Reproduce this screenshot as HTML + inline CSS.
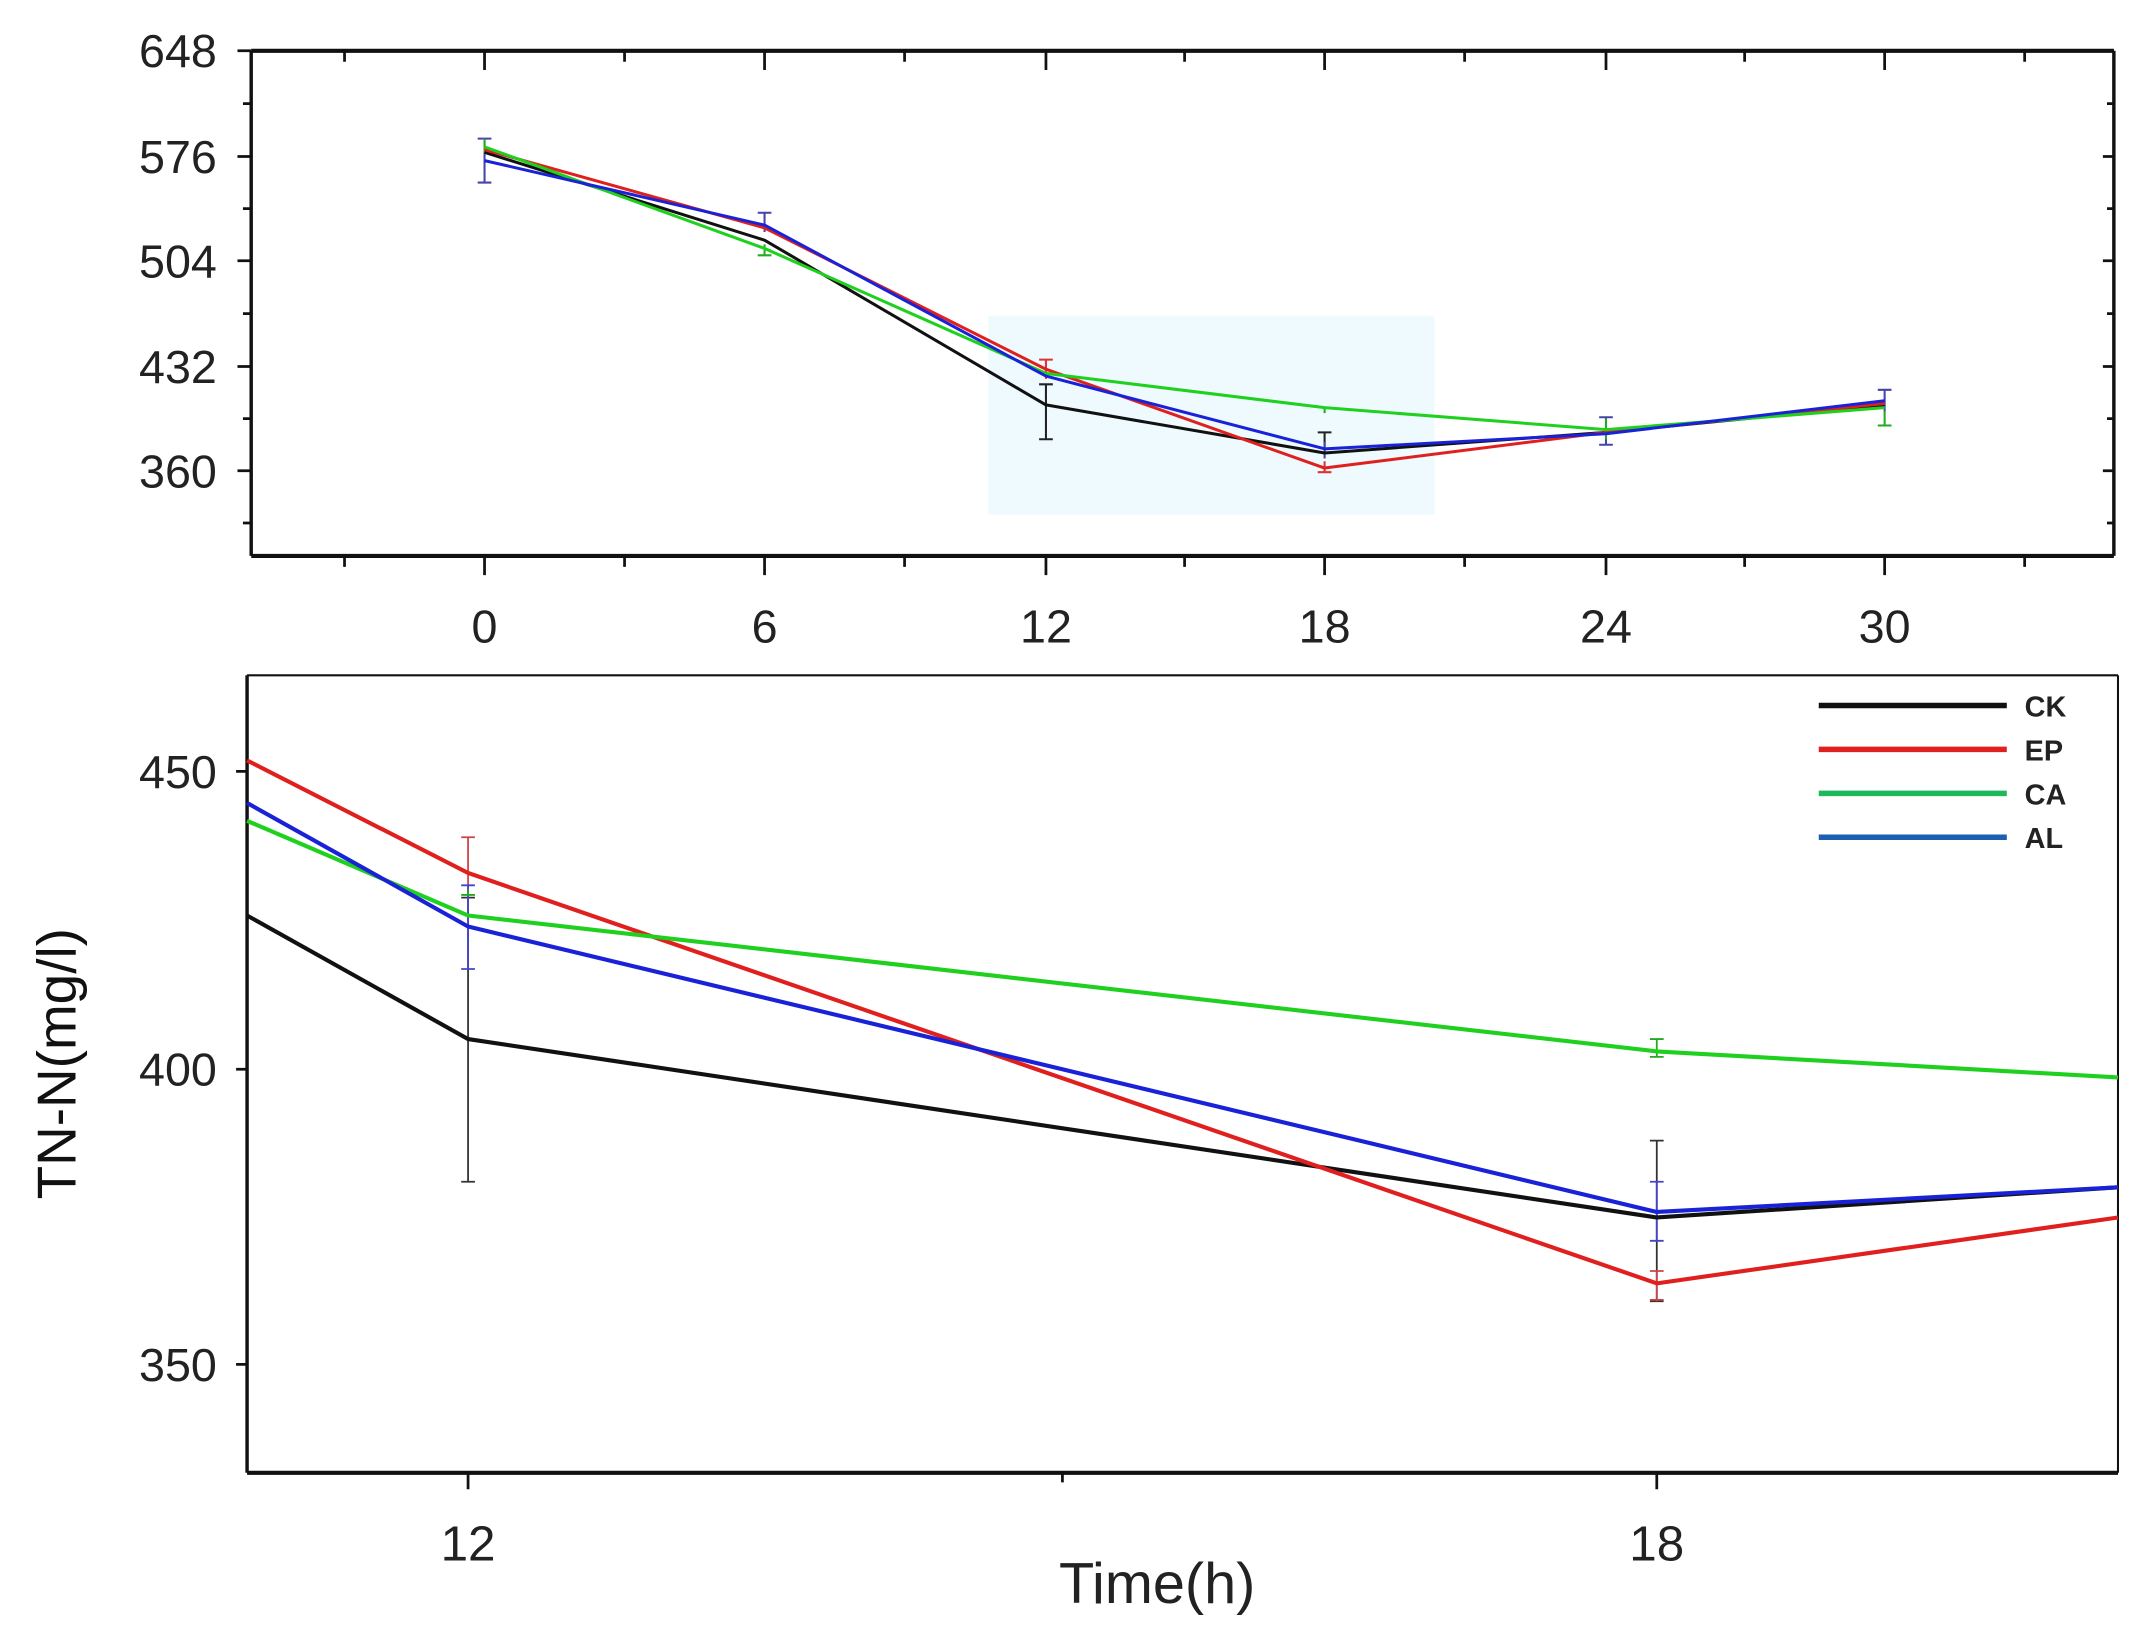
<!DOCTYPE html>
<html><head><style>html,body{margin:0;padding:0;background:#fff;}svg{display:block}</style></head>
<body>
<svg width="2151" height="1638" viewBox="0 0 1560 1188" preserveAspectRatio="none" xmlns="http://www.w3.org/2000/svg" font-family="Liberation Sans, sans-serif">
<rect width="1560" height="1188" fill="#fff"/>
<g transform="scale(0.9955)">
<!-- TOP PLOT -->
<rect x="720" y="230" width="325" height="145" fill="#eefafd"/>
<g stroke="#111" fill="none">
<line x1="183" y1="37" x2="1540" y2="37" stroke-width="3"/>
<line x1="183" y1="405" x2="1540" y2="405" stroke-width="3"/>
<line x1="183" y1="37" x2="183" y2="405" stroke-width="2.5"/>
<line x1="1540" y1="37" x2="1540" y2="405" stroke-width="2.5"/>
<g stroke-width="2">
<path d="M183 37h-10M183 114h-10M183 190h-10M183 267h-10M183 343h-10M183 75.5h-6M183 152h-6M183 228.5h-6M183 305h-6M183 381h-6"/>
<path d="M1540 37h-8M1540 114h-8M1540 190h-8M1540 267h-8M1540 343h-8M1540 75.5h-5M1540 152h-5M1540 228.5h-5M1540 305h-5M1540 381h-5"/>
<path d="M353 405v14M557 405v14M762 405v14M965 405v14M1170 405v14M1373 405v14M251 405v8M455 405v8M659 405v8M863 405v8M1067 405v8M1271 405v8M1475 405v8"/>
<path d="M353 37v14M557 37v14M762 37v14M965 37v14M1170 37v14M1373 37v14M251 37v8M455 37v8M659 37v8M863 37v8M1067 37v8M1271 37v8M1475 37v8"/>
</g></g>
<g font-size="34" fill="#222" text-anchor="end">
<text x="158" y="49">648</text><text x="158" y="126">576</text><text x="158" y="202">504</text><text x="158" y="279">432</text><text x="158" y="355">360</text>
</g>
<g font-size="34" fill="#222" text-anchor="middle">
<text x="353" y="468">0</text><text x="557" y="468">6</text><text x="762" y="468">12</text><text x="965" y="468">18</text><text x="1170" y="468">24</text><text x="1373" y="468">30</text>
</g>
<g fill="none" stroke-width="1.5">
<path stroke="#222" d="M762 280v40M757 280h10M757 320h10M965 315v15M960 315h10"/>
<path stroke="#d33" d="M762 262v14M757 262h10M965 336v8M960 344h10"/>
<path stroke="#44a" d="M353 101v32M348 133h10M348 101h10M557 155v14M552 155h10M965 322v12M1170 304v20M1165 304h10M1165 324h10M1373 284v16M1368 284h10"/>
<path stroke="#2a2" d="M353 101v10M557 178v8M552 186h10M965 297v4M1373 300v10M1368 310h10M1170 305v15"/>
</g>
<g fill="none" stroke-width="2.2" stroke-linejoin="round">
<polyline stroke="#111" points="353,111 557,175 762,295 965,330 1170,315 1373,295"/>
<polyline stroke="#e0201e" points="353,109 557,166 762,269 965,341 1170,315 1373,294"/>
<polyline stroke="#1fd01f" points="353,107 557,181 762,272 965,297 1170,313 1373,297"/>
<polyline stroke="#1a22d8" points="353,117 557,164 762,274 965,327 1170,316 1373,292"/>
</g>
<!-- BOTTOM PLOT -->
<g stroke="#111" fill="none">
<line x1="180" y1="492" x2="1543" y2="492" stroke-width="1.5"/>
<line x1="1543" y1="492" x2="1543" y2="1073" stroke-width="1.5"/>
<line x1="180" y1="492" x2="180" y2="1073" stroke-width="2.5"/>
<line x1="180" y1="1073" x2="1543" y2="1073" stroke-width="3"/>
<path stroke-width="2" d="M180 562h-8M180 779h-8M180 994h-8M341 1073v12M1207 1073v12M774 1073v7"/>
</g>
<g font-size="34" fill="#222" text-anchor="end">
<text x="158" y="574">450</text><text x="158" y="791">400</text><text x="158" y="1006">350</text>
</g>
<g font-size="36" fill="#222" text-anchor="middle">
<text x="341" y="1137">12</text><text x="1207" y="1137">18</text>
<text x="843" y="1168" font-size="42">Time(h)</text>
</g>
<text transform="translate(55,775) rotate(-90)" font-size="40" fill="#111" text-anchor="middle">TN-N(mg/l)</text>
<g fill="none" stroke-width="1.3">
<path stroke="#333" d="M341 654v207M336 654h10M336 861h10M1207 831v117M1202 831h10M1202 948h10"/>
<path stroke="#c44" d="M341 610v48M336 610h10M1207 926v22M1202 926h10M1202 947h10"/>
<path stroke="#44c" d="M341 645v61M336 645h10M336 706h10M1207 861v43M1202 861h10M1202 904h10"/>
<path stroke="#2a2" d="M1207 757v13M1202 757h10M1202 770h10M341 648v4M336 652h10"/>
</g>
<g fill="none" stroke-width="3" stroke-linejoin="round">
<polyline stroke="#111" points="180,667 341,757 1207,887 1543,865"/>
<polyline stroke="#e0201e" points="180,554 341,636 1207,935 1543,887"/>
<polyline stroke="#1fd01f" points="180,598 341,667 1207,766 1543,785"/>
<polyline stroke="#1a22d8" points="180,585 341,675 1207,883 1543,865"/>
</g>
<g stroke-width="4">
<line x1="1325" y1="514" x2="1462" y2="514" stroke="#111"/>
<line x1="1325" y1="546" x2="1462" y2="546" stroke="#e0201e"/>
<line x1="1325" y1="578" x2="1462" y2="578" stroke="#1cb85a"/>
<line x1="1325" y1="610" x2="1462" y2="610" stroke="#1a5fb0"/>
</g>
<g font-size="21" font-weight="bold" fill="#222">
<text x="1475" y="522">CK</text><text x="1475" y="554">EP</text><text x="1475" y="586">CA</text><text x="1475" y="618">AL</text>
</g>
</g>
</svg>
</body></html>
